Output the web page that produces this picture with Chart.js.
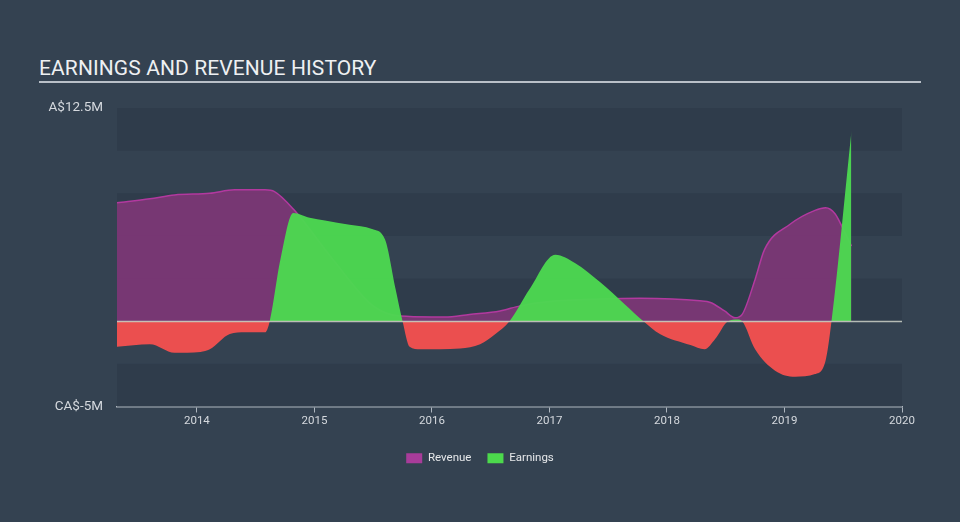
<!DOCTYPE html>
<html>
<head>
<meta charset="utf-8">
<script src="https://cdn.jsdelivr.net/npm/chart.js@4.4.1/dist/chart.umd.min.js"></script>
<style>
  html, body { margin:0; padding:0; background:#344251; }
  #wrap { position:relative; width:960px; height:522px; }
  #title { position:absolute; left:39px; top:56px; width:882px; color:#eef0f2;
           font-family:Roboto, sans-serif; font-size:21px; letter-spacing:0.1px;
           padding-bottom:1px; border-bottom:2px solid #b9c0c8; line-height:24px; }
  canvas { position:absolute; left:0; top:0; }
</style>
</head>
<body>
<div id="wrap">
  <div id="title">EARNINGS AND REVENUE HISTORY</div>
  <canvas id="histChart" width="960" height="522"></canvas>
</div>
<script>
// decimal years and values in millions (A$)
const revenueX = [2013.32, 2013.6, 2013.81, 2014.11, 2014.32, 2014.58, 2014.66, 2014.83, 2015.16, 2015.5, 2015.73, 2016.0, 2016.11, 2016.32, 2016.58, 2016.75, 2017.0, 2017.43, 2017.77, 2018.28, 2018.37, 2018.49, 2018.58, 2018.64, 2018.75, 2018.83, 2019.05, 2019.26, 2019.35, 2019.43, 2019.5, 2019.57];
const revenueY = [6.94, 7.18, 7.4, 7.5, 7.7, 7.7, 7.6, 6.5, 3.6, 0.9, 0.3, 0.25, 0.25, 0.4, 0.6, 0.9, 1.15, 1.3, 1.35, 1.2, 1.1, 0.6, 0.2, 0.4, 2.45, 4.2, 5.7, 6.5, 6.65, 6.3, 5.4, 4.4];
const earningsX = [2013.32, 2013.6, 2013.81, 2014.03, 2014.11, 2014.28, 2014.41, 2014.58, 2014.62, 2014.71, 2014.82, 2014.96, 2015.09, 2015.3, 2015.49, 2015.6, 2015.69, 2015.75, 2015.81, 2015.9, 2016.24, 2016.41, 2016.54, 2016.66, 2016.83, 2017.05, 2017.22, 2017.43, 2017.64, 2017.8, 2017.94, 2018.2, 2018.32, 2018.41, 2018.52, 2018.6, 2018.64, 2018.75, 2018.92, 2019.09, 2019.26, 2019.35, 2019.4, 2019.57];
const earningsY = [-1.5, -1.35, -1.85, -1.8, -1.65, -0.75, -0.65, -0.65, 0, 3.6, 6.35, 6.07, 5.9, 5.65, 5.4, 4.8, 1.9, 0, -1.5, -1.65, -1.6, -1.35, -0.75, 0, 1.87, 3.9, 3.4, 2.3, 1.0, 0, -0.75, -1.4, -1.65, -1.05, 0, 0.1, 0, -1.65, -2.9, -3.25, -3.1, -2.3, 0, 11.15];
const yearTicks = [2014, 2015, 2016, 2017, 2018, 2019, 2020];
const yMin = -5, yMax = 12.5, yStep = 2.5;

const pts = (xs, ys) => xs.map((x, i) => ({ x: x, y: ys[i] }));

const bandsPlugin = {
  id: 'bands',
  afterLayout(chart) {
    // centre the legend on the whole canvas, not on the padded box
    const l = chart.legend;
    if (l) { l.left = 0; l.right = chart.width; l.width = chart.width; }
  },
  beforeDatasetsDraw(chart) {
    const { ctx, chartArea: a, scales: { y } } = chart;
    ctx.save();
    ctx.fillStyle = '#2f3c4b';
    for (let v = yMax; v > yMin; v -= 2 * yStep) {
      const t = y.getPixelForValue(v), b = y.getPixelForValue(v - yStep);
      ctx.fillRect(a.left, t, a.right - a.left, b - t);
    }
    ctx.restore();
  },
  afterDatasetsDraw(chart) {
    const { ctx, chartArea: a, scales: { y } } = chart;
    const z = Math.round(y.getPixelForValue(0)) + 0.5;
    ctx.save();
    ctx.strokeStyle = 'rgba(205,210,200,0.85)';
    ctx.lineWidth = 1.5;
    ctx.beginPath();
    ctx.moveTo(a.left, z);
    ctx.lineTo(a.right, z);
    ctx.stroke();
    ctx.restore();
  }
};

const ctx = document.getElementById('histChart').getContext('2d');
new Chart(ctx, {
  type: 'line',
  data: {
    datasets: [
      {
        label: 'Revenue',
        data: pts(revenueX, revenueY),
        borderColor: '#b2399f',
        borderWidth: 1.5,
        backgroundColor: 'rgba(122,55,117,0.97)',
        fill: 'origin',
        pointRadius: 0,
        cubicInterpolationMode: 'monotone',
        order: 2
      },
      {
        label: 'Earnings',
        data: pts(earningsX, earningsY),
        borderColor: 'rgba(0,0,0,0)',
        borderWidth: 0,
        backgroundColor: '#4bd84f',
        fill: { target: 'origin', above: 'rgba(76,217,80,0.96)', below: '#eb4f4f' },
        pointRadius: 0,
        cubicInterpolationMode: 'monotone',
        order: 1
      }
    ]
  },
  options: {
    responsive: false,
    animation: false,
    layout: { padding: { top: 108, right: 58, bottom: 48, left: 0 } },
    plugins: {
      title: { display: false },
      tooltip: { enabled: false },
      legend: {
        position: 'bottom',
        labels: {
          color: '#e6e8ea',
          font: { family: 'Roboto', size: 11.5 },
          boxWidth: 16,
          boxHeight: 10,
          padding: 16,
          generateLabels: () => [
            { text: 'Revenue', fillStyle: '#a83c9a', strokeStyle: '#a83c9a', lineWidth: 0, fontColor: '#e6e8ea' },
            { text: 'Earnings', fillStyle: '#4cd94c', strokeStyle: '#4cd94c', lineWidth: 0, fontColor: '#e6e8ea' }
          ]
        }
      }
    },
    scales: {
      x: {
        type: 'linear',
        min: revenueX[0],
        max: 2020,
        afterBuildTicks: axis => { axis.ticks = yearTicks.map(v => ({ value: v })); },
        ticks: {
          color: '#d5d9de',
          font: { family: 'Roboto', size: 11.5 },
          padding: 2,
          maxRotation: 0,
          autoSkip: false,
          callback: v => String(v)
        },
        grid: { drawOnChartArea: false, drawTicks: true, tickLength: 6, color: '#aeb6bf' },
        border: { display: true, color: '#aeb6bf', width: 1.5 },
        afterFit: axis => { axis.height = 30; }
      },
      y: {
        min: yMin,
        max: yMax,
        ticks: {
          stepSize: yStep,
          color: '#d5d9de',
          font: { family: 'Roboto', size: 13.5 },
          padding: 14,
          callback: v => v === yMax ? 'A$12.5M' : (v === yMin ? 'CA$-5M' : '')
        },
        grid: { display: false, drawTicks: false },
        border: { display: false },
        afterFit: axis => { axis.width = 117; }
      }
    }
  },
  plugins: [bandsPlugin]
});
</script>
</body>
</html>
